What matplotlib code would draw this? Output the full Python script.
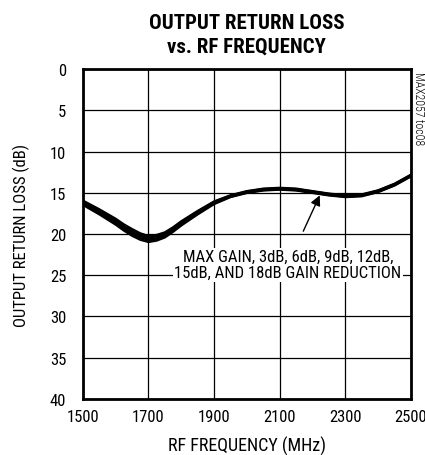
import matplotlib
matplotlib.use("Agg")
import matplotlib.pyplot as plt

plt.rcParams["font.family"] = ["Roboto Condensed", "DejaVu Sans"]

# RF frequency in MHz
FREQ = [1500, 1550, 1600, 1625, 1650, 1675, 1700, 1725, 1750, 1775, 1800, 1850, 1900,
        1950, 2000, 2050, 2100, 2150, 2200, 2250, 2300, 2350, 2400, 2450, 2500]

# output return loss (dB), one list per gain setting
MAX_GAIN = [15.9, 16.95, 18.1, 18.78, 19.35, 19.87, 20.2, 20.07, 19.75, 19.13, 18.4, 17.15, 16.0,
            15.25, 14.75, 14.45, 14.35, 14.45, 14.75, 15.05, 15.25, 15.15, 14.65, 13.85, 12.75]
RED_3DB = [16.0, 17.07, 18.23, 18.92, 19.5, 20.01, 20.33, 20.2, 19.87, 19.24, 18.5, 17.23, 16.07,
           15.3, 14.8, 14.5, 14.4, 14.5, 14.8, 15.1, 15.3, 15.2, 14.7, 13.9, 12.8]
RED_6DB = [16.1, 17.18, 18.37, 19.06, 19.65, 20.16, 20.47, 20.32, 19.98, 19.34, 18.6, 17.32, 16.13,
           15.35, 14.85, 14.55, 14.45, 14.55, 14.85, 15.15, 15.35, 15.25, 14.75, 13.95, 12.85]
RED_9DB = [16.2, 17.3, 18.5, 19.2, 19.8, 20.3, 20.6, 20.45, 20.1, 19.45, 18.7, 17.4, 16.2,
           15.4, 14.9, 14.6, 14.5, 14.6, 14.9, 15.2, 15.4, 15.3, 14.8, 14.0, 12.9]
RED_12DB = [16.3, 17.42, 18.63, 19.34, 19.95, 20.44, 20.73, 20.58, 20.22, 19.56, 18.8, 17.48, 16.27,
            15.45, 14.95, 14.65, 14.55, 14.65, 14.95, 15.25, 15.45, 15.35, 14.85, 14.05, 12.95]
RED_15DB = [16.4, 17.53, 18.77, 19.48, 20.1, 20.59, 20.87, 20.7, 20.33, 19.66, 18.9, 17.57, 16.33,
            15.5, 15.0, 14.7, 14.6, 14.7, 15.0, 15.3, 15.5, 15.4, 14.9, 14.1, 13.0]
RED_18DB = [16.5, 17.65, 18.9, 19.62, 20.25, 20.73, 21.0, 20.83, 20.45, 19.77, 19.0, 17.65, 16.4,
            15.55, 15.05, 14.75, 14.65, 14.75, 15.05, 15.35, 15.55, 15.45, 14.95, 14.15, 13.05]

X_TICKS = [1500, 1700, 1900, 2100, 2300, 2500]
Y_TICKS = [0, 5, 10, 15, 20, 25, 30, 35, 40]


def main():
    fig = plt.figure(figsize=(4.25, 4.56), dpi=100)
    ax = fig.add_axes([0.195, 0.123, 0.772, 0.723])

    for curve in [MAX_GAIN, RED_3DB, RED_6DB, RED_9DB, RED_12DB, RED_15DB, RED_18DB]:
        ax.plot(FREQ, curve, color="black", lw=1.2)

    ax.set_xlim(1500, 2500)
    ax.set_ylim(40, 0)
    ax.set_xticks(X_TICKS)
    ax.set_yticks(Y_TICKS)
    ax.tick_params(axis="x", length=0, labelsize=12, pad=7)
    ax.tick_params(axis="y", length=0, labelsize=12, pad=12)
    ax.grid(True, color="black", lw=0.9)
    for sp in ax.spines.values():
        sp.set_linewidth(2)

    ax.set_xlabel("RF FREQUENCY (MHz)", fontsize=13, labelpad=9)
    ax.set_ylabel("OUTPUT RETURN LOSS (dB)", fontsize=12, labelpad=14)
    ax.set_title("OUTPUT RETURN LOSS\nvs. RF FREQUENCY", fontsize=15, weight="bold",
                 pad=13, linespacing=1.3)

    ax.annotate("MAX GAIN, 3dB, 6dB, 9dB, 12dB,\n15dB, AND 18dB GAIN REDUCTION",
                xy=(2222, 15.3), xytext=(2125, 23.7), ha="center", va="center",
                fontsize=12, linespacing=1.05,
                bbox=dict(boxstyle="square,pad=0.1", fc="white", ec="none"),
                arrowprops=dict(arrowstyle="-|>", color="black", lw=1,
                                mutation_scale=15, shrinkA=13, shrinkB=0))

    fig.text(0.970, 0.843, "MAX2057 toc08", rotation=270, fontsize=8.5,
             ha="left", va="top", weight="light")

    fig.savefig("out.png", dpi=100)


if __name__ == "__main__":
    main()
